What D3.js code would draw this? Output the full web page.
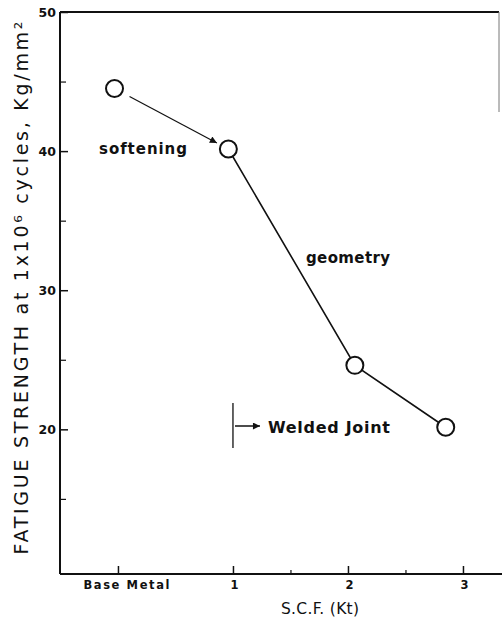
<!DOCTYPE html>
<html>
<head>
<meta charset="utf-8">
<script src="https://cdn.jsdelivr.net/npm/d3@7"></script>
<style>
  html, body { margin: 0; padding: 0; background: #fff; }
  svg { display: block; }
</style>
</head>
<body>
<svg id="chart" width="502" height="622"></svg>
<script>
// ---- data ----
const xTickValues = [0, 1, 2, 3];
const xTickLabels = ["Base Metal", "1", "2", "3"];
const xMinorTicks = [1.5, 2.5];
const yTickValues = [20, 30, 40, 50];
const yTickLabels = ["20", "30", "40", "50"];
const yMinorTicks = [15, 25, 35, 45];
const scf = [-0.03, 0.96, 2.06, 2.85];           // S.C.F. (Kt)
const strength = [44.5, 40.15, 24.6, 20.15];     // Kg/mm^2
const weldedJointX = 1.0;

(function () {
// ---- layout ----
const svg = d3.select("#chart");
const mLeft = 60, mRight = 500, mTop = 12, mBottom = 574;

const x = d3.scaleLinear().domain([-0.504, 3.322]).range([mLeft, mRight]);
const y = d3.scaleLinear().domain([9.6, 50]).range([mBottom, mTop]);

const ink = "#111";

// frame (top + partial right)
svg.append("line").attr("x1", mLeft).attr("x2", 499).attr("y1", mTop).attr("y2", mTop)
  .attr("stroke", ink).attr("stroke-width", 2);
svg.append("line").attr("x1", 499).attr("x2", 499).attr("y1", mTop).attr("y2", 112)
  .attr("stroke", "#777").attr("stroke-width", 1);

// y axis
const yAxis = d3.axisLeft(y).tickValues(yTickValues)
  .tickFormat((d, i) => yTickLabels[i]).tickSize(-8).tickPadding(4);
const gy = svg.append("g").attr("transform", `translate(${mLeft},0)`).call(yAxis);
gy.select(".domain").attr("stroke", ink).attr("stroke-width", 2).attr("d", `M0,${mTop}V${mBottom}`);
gy.selectAll(".tick line").attr("stroke", ink).attr("stroke-width", 1.5);
gy.selectAll(".tick text").attr("font-family", "DejaVu Sans").attr("font-weight", "bold")
  .attr("font-size", 12.5).attr("fill", ink);

const yMinor = d3.axisLeft(y).tickValues(yMinorTicks).tickFormat("").tickSize(-6);
const gym = svg.append("g").attr("transform", `translate(${mLeft},0)`).call(yMinor);
gym.select(".domain").remove();
gym.selectAll(".tick line").attr("stroke", ink).attr("stroke-width", 1.2);

// x axis
const xAxis = d3.axisBottom(x).tickValues(xTickValues)
  .tickFormat((d, i) => xTickLabels[i]).tickSize(-8).tickPadding(7);
const gx = svg.append("g").attr("transform", `translate(0,${mBottom})`).call(xAxis);
gx.select(".domain").attr("stroke", ink).attr("stroke-width", 2).attr("d", `M${mLeft},0H502`);
gx.selectAll(".tick line").attr("stroke", ink).attr("stroke-width", 1.5);
gx.selectAll(".tick text").attr("font-family", "DejaVu Sans").attr("font-weight", "bold")
  .attr("font-size", 11.5).attr("fill", ink)
  .attr("dx", (d, i) => i === 0 ? 8 : 1)
  .attr("textLength", (d, i) => i === 0 ? 86 : null)
  .attr("lengthAdjust", "spacing");

const xMinor = d3.axisBottom(x).tickValues(xMinorTicks).tickFormat("").tickSize(-4);
const gxm = svg.append("g").attr("transform", `translate(0,${mBottom})`).call(xMinor);
gxm.select(".domain").remove();
gxm.selectAll(".tick line").attr("stroke", ink).attr("stroke-width", 1.2);

// axis titles
svg.append("text").attr("x", 320).attr("y", 614).attr("text-anchor", "middle")
  .attr("font-family", "DejaVu Sans").attr("font-size", 15.5).attr("fill", ink)
  .attr("textLength", 78).attr("lengthAdjust", "spacing").text("S.C.F. (Kt)");

svg.append("text")
  .attr("transform", "translate(28,288) rotate(-90)")
  .attr("text-anchor", "middle")
  .attr("font-family", "DejaVu Sans").attr("font-size", 19).attr("fill", ink)
  .attr("textLength", 533).attr("lengthAdjust", "spacing")
  .text("FATIGUE STRENGTH at 1x10\u2076 cycles, Kg/mm\u00B2");

// defs: arrowhead
svg.append("defs").append("marker")
  .attr("id", "arr").attr("viewBox", "0 0 10 10").attr("refX", 10).attr("refY", 5)
  .attr("markerWidth", 11).attr("markerHeight", 7).attr("markerUnits", "userSpaceOnUse")
  .attr("orient", "auto")
  .append("path").attr("d", "M0,0 L10,5 L0,10 Z").attr("fill", ink);

const pts = scf.map((v, i) => [x(v), y(strength[i])]);

// softening arrow from point 0 to point 1
{
  const [x0, y0] = pts[0], [x1, y1] = pts[1];
  const dx = x1 - x0, dy = y1 - y0, L = Math.hypot(dx, dy);
  const ux = dx / L, uy = dy / L;
  svg.append("line")
    .attr("x1", x0 + ux * 17).attr("y1", y0 + uy * 17)
    .attr("x2", x1 - ux * 13).attr("y2", y1 - uy * 13)
    .attr("stroke", ink).attr("stroke-width", 1.2).attr("marker-end", "url(#arr)");
}

// geometry line through points 1..3
const line = d3.line();
svg.append("path").attr("d", line(pts.slice(1)))
  .attr("fill", "none").attr("stroke", ink).attr("stroke-width", 1.6);

// circles
svg.selectAll("circle.pt").data(pts).enter().append("circle").attr("class", "pt")
  .attr("cx", d => d[0]).attr("cy", d => d[1]).attr("r", 8.5)
  .attr("fill", "#fff").attr("stroke", ink).attr("stroke-width", 2);

// welded joint marker
const wx = x(weldedJointX);
svg.append("line").attr("x1", wx).attr("x2", wx).attr("y1", 403).attr("y2", 448)
  .attr("stroke", ink).attr("stroke-width", 1.3);
svg.append("line").attr("x1", wx + 2).attr("x2", wx + 27).attr("y1", 426).attr("y2", 426)
  .attr("stroke", ink).attr("stroke-width", 1.5).attr("marker-end", "url(#arr)");

// annotations
const ann = (t, xx, yy, w, fs) => svg.append("text").attr("x", xx).attr("y", yy)
  .attr("font-family", "DejaVu Sans").attr("font-weight", "bold").attr("font-size", fs)
  .attr("fill", ink).attr("textLength", w).attr("lengthAdjust", "spacing").text(t);
ann("softening", 99, 154, 88, 15);
ann("geometry", 306, 263, 84, 15);
ann("Welded Joint", 268, 433, 122, 16);
})();
</script>
</body>
</html>
